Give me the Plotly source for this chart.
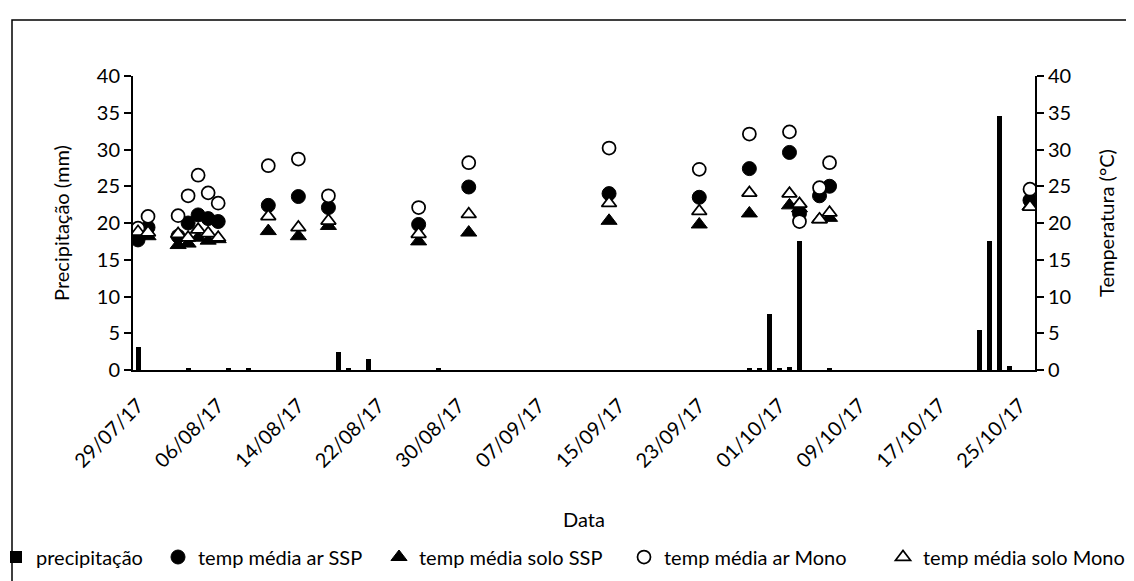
import plotly.graph_objects as go

# Precipitation (mm)
precip_dates = ["2017-07-29", "2017-08-03", "2017-08-07", "2017-08-09", "2017-08-18",
                "2017-08-19", "2017-08-21", "2017-08-28", "2017-09-28", "2017-09-29",
                "2017-09-30", "2017-10-01", "2017-10-02", "2017-10-03", "2017-10-06",
                "2017-10-21", "2017-10-22", "2017-10-23", "2017-10-24"]
precip_vals = [3.1, 0.2, 0.2, 0.2, 2.5,
               0.2, 1.5, 0.2, 0.2, 0.2,
               7.6, 0.2, 0.4, 17.6, 0.2,
               5.5, 17.6, 34.6, 0.6]

# Temperature sampling dates
temp_dates = ["2017-07-29", "2017-07-30", "2017-08-02", "2017-08-03", "2017-08-04",
              "2017-08-05", "2017-08-06", "2017-08-11", "2017-08-14", "2017-08-17",
              "2017-08-26", "2017-08-31", "2017-09-14", "2017-09-23", "2017-09-28",
              "2017-10-02", "2017-10-03", "2017-10-05", "2017-10-06", "2017-10-26"]
ar_ssp = [17.7, 19.4, 18.2, 20.0, 21.1, 20.6, 20.2, 22.4, 23.6, 22.1,
          19.8, 24.9, 24.0, 23.5, 27.4, 29.6, 21.3, 23.7, 25.0, 23.1]
solo_ssp = [18.3, 18.2, 17.0, 17.2, 18.0, 17.6, 17.8, 18.9, 18.2, 19.6,
            17.5, 18.7, 20.3, 19.8, 21.3, 22.4, 22.0, 20.5, 20.7, 22.3]
ar_mono = [19.3, 20.9, 21.0, 23.7, 26.5, 24.1, 22.7, 27.8, 28.7, 23.7,
           22.1, 28.2, 30.2, 27.3, 32.1, 32.4, 20.2, 24.8, 28.2, 24.6]
solo_mono = [18.8, 18.7, 18.5, 18.0, 19.1, 18.6, 18.0, 20.9, 19.4, 20.3,
             18.5, 21.2, 22.7, 21.6, 24.1, 24.0, 22.6, 20.5, 21.4, 22.2]

x_tick_dates = ["2017-07-29", "2017-08-06", "2017-08-14", "2017-08-22", "2017-08-30",
                "2017-09-07", "2017-09-15", "2017-09-23", "2017-10-01", "2017-10-09",
                "2017-10-17", "2017-10-25"]
x_tick_labels = ["29/07/17", "06/08/17", "14/08/17", "22/08/17", "30/08/17",
                 "07/09/17", "15/09/17", "23/09/17", "01/10/17", "09/10/17",
                 "17/10/17", "25/10/17"]
y_ticks = [0, 5, 10, 15, 20, 25, 30, 35, 40]

FONT = "Lato"
FS = 20
DAY_MS = 86400000

# plot area in pixels
L, R, T, B = 125, 1027, 68, 362
W, H = 1134, 581
PW, PH = R - L, B - T


def px(xp):
    return (xp - L) / PW


def py(yp):
    return (B - yp) / PH


fig = go.Figure()
fig.add_trace(go.Bar(x=precip_dates, y=precip_vals, name="precipitação",
                     marker=dict(color="black", line=dict(width=0)),
                     width=0.5 * DAY_MS, yaxis="y", legend="legend"))
fig.add_trace(go.Scatter(x=temp_dates, y=ar_ssp, name="temp média ar SSP", mode="markers",
                         marker=dict(symbol="circle", size=14, color="black",
                                     line=dict(color="black", width=1)),
                         yaxis="y2", legend="legend2"))
fig.add_trace(go.Scatter(x=temp_dates, y=solo_ssp, name="temp média solo SSP", mode="markers",
                         marker=dict(symbol="triangle-up", size=14, color="black",
                                     line=dict(color="black", width=1)),
                         yaxis="y2", legend="legend3"))
fig.add_trace(go.Scatter(x=temp_dates, y=ar_mono, name="temp média ar Mono", mode="markers",
                         marker=dict(symbol="circle", size=13, color="white",
                                     line=dict(color="black", width=1.75)),
                         yaxis="y2", legend="legend4"))
fig.add_trace(go.Scatter(x=temp_dates, y=solo_mono, name="temp média solo Mono", mode="markers",
                         marker=dict(symbol="triangle-up", size=13, color="white",
                                     line=dict(color="black", width=1.75)),
                         yaxis="y2", legend="legend5"))


def leg(xpix):
    return dict(orientation="h", x=px(xpix), xanchor="left", y=py(549), yanchor="middle",
                font=dict(family=FONT, size=20, color="black"),
                itemwidth=30, tracegroupgap=0, bgcolor="rgba(0,0,0,0)")


axis_font = dict(family=FONT, size=FS, color="black")
fig.update_layout(
    width=W, height=H,
    margin=dict(l=L, r=W - R, t=T, b=H - B, autoexpand=False),
    paper_bgcolor="white", plot_bgcolor="white",
    font=dict(family=FONT, size=FS, color="black"),
    showlegend=True,
    legend=leg(-12), legend2=leg(150), legend3=leg(371), legend4=leg(616), legend5=leg(875),
    bargap=0,
    xaxis=dict(type="date", range=["2017-07-28 12:00", "2017-10-26 12:00"],
               tickvals=x_tick_dates, ticktext=x_tick_labels, tickangle=-45,
               tickfont=axis_font, showline=True, linecolor="black", linewidth=2,
               ticks="", showgrid=False, zeroline=False, ticklabelstandoff=14,
               title=dict(text="Data", font=dict(family=FONT, size=FS), standoff=42)),
    yaxis=dict(range=[0, 40], tickvals=y_ticks, tickfont=axis_font,
               showline=True, linecolor="black", linewidth=2, ticks="outside",
               ticklen=7, tickwidth=2, tickcolor="black", showgrid=False, zeroline=False,
               title=dict(text="Precipitação (mm)", font=dict(family=FONT, size=FS), standoff=22)),
    yaxis2=dict(range=[0, 40], tickvals=y_ticks, tickfont=axis_font, overlaying="y",
                side="right", showline=True, linecolor="black", linewidth=2, ticks="outside",
                ticklen=7, tickwidth=2, tickcolor="black", showgrid=False, zeroline=False,
                title=dict(text="Temperatura (°C)", font=dict(family=FONT, size=FS), standoff=30)),
    shapes=[dict(type="rect", xref="paper", yref="paper",
                 x0=px(4), x1=px(1145), y0=py(595), y1=py(12),
                 line=dict(color="black", width=1.5), fillcolor="rgba(0,0,0,0)", layer="below")],
)

fig.write_html("out.html")
